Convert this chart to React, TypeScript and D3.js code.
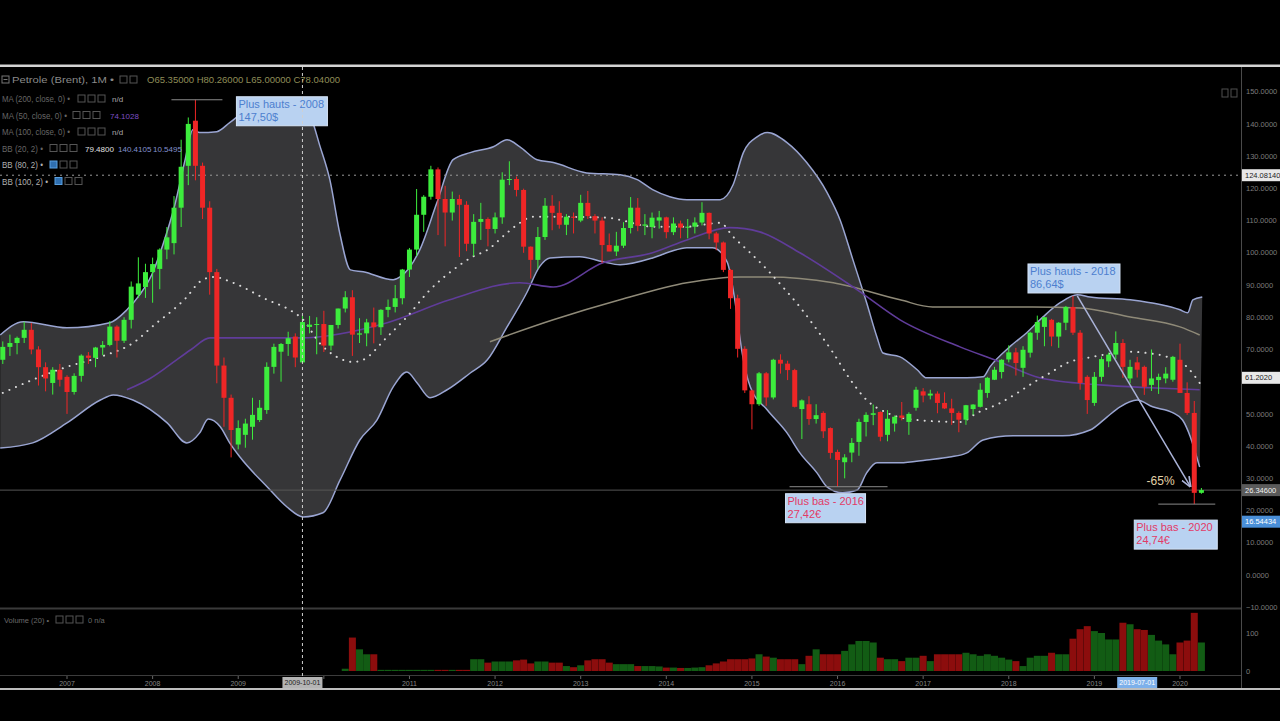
import React from "react";
import * as d3 from "d3";

// Monthly candles: [month, open, high, low, close]
const candles: [string, number, number, number, number][] = [
  ["2006-04", 66.8, 72.5, 65.5, 70.8], ["2006-05", 70.8, 74.6, 68.0, 72.0], ["2006-06", 72.0, 74.0, 68.5, 73.6],
  ["2006-07", 73.6, 78.6, 72.0, 76.1], ["2006-08", 76.1, 78.2, 68.5, 70.0], ["2006-09", 70.0, 71.0, 58.8, 64.5],
  ["2006-10", 64.5, 66.0, 57.0, 61.0], ["2006-11", 59.6, 64.5, 56.0, 63.7], ["2006-12", 63.7, 65.5, 58.5, 60.6],
  ["2007-01", 61.5, 62.0, 50.0, 56.8], ["2007-02", 56.8, 62.6, 56.0, 61.8], ["2007-03", 61.8, 68.5, 60.0, 68.1],
  ["2007-04", 68.1, 69.2, 65.5, 67.4], ["2007-05", 67.4, 70.8, 64.5, 70.6], ["2007-06", 70.6, 72.6, 68.2, 71.4],
  ["2007-07", 71.4, 78.8, 71.0, 77.1], ["2007-08", 77.1, 77.5, 67.5, 72.7], ["2007-09", 72.7, 80.0, 72.0, 79.2],
  ["2007-10", 79.2, 91.1, 76.5, 89.5], ["2007-11", 87.0, 98.6, 86.0, 90.5], ["2007-12", 89.4, 96.6, 86.0, 94.0],
  ["2008-01", 94.0, 98.5, 84.5, 96.5], ["2008-02", 95.0, 101.4, 88.7, 101.0], ["2008-03", 101.0, 108.0, 98.0, 104.8],
  ["2008-04", 103.0, 117.6, 99.5, 114.0], ["2008-05", 114.0, 135.1, 108.0, 126.7], ["2008-06", 127.0, 142.0, 121.0, 140.0],
  ["2008-07", 141.0, 147.5, 122.5, 127.0], ["2008-08", 127.0, 128.0, 110.5, 114.0], ["2008-09", 114.0, 116.0, 87.0, 94.0],
  ["2008-10", 94.0, 95.0, 59.5, 65.0], ["2008-11", 65.0, 67.5, 46.0, 55.0], ["2008-12", 55.0, 56.0, 36.5, 45.0],
  ["2009-01", 40.5, 48.0, 39.0, 45.6], ["2009-02", 43.5, 48.5, 39.5, 47.0], ["2009-03", 46.0, 55.0, 42.0, 49.7],
  ["2009-04", 48.1, 54.3, 47.5, 51.9], ["2009-05", 51.2, 66.0, 50.0, 64.6], ["2009-06", 64.6, 71.8, 62.5, 70.8],
  ["2009-07", 69.3, 72.0, 60.0, 71.7], ["2009-08", 71.7, 75.5, 68.0, 73.5], ["2009-09", 74.0, 75.0, 64.5, 67.5],
  ["2009-10", 66.0, 80.5, 65.8, 78.5], ["2009-11", 77.0, 80.4, 75.0, 77.7], ["2009-12", 77.7, 80.0, 68.5, 77.9],
  ["2010-01", 77.9, 82.0, 69.2, 71.2], ["2010-02", 71.2, 77.6, 69.7, 77.6], ["2010-03", 77.6, 82.7, 76.5, 82.7],
  ["2010-04", 82.7, 88.1, 81.5, 86.2], ["2010-05", 86.2, 88.4, 68.0, 74.6], ["2010-06", 74.6, 79.7, 72.0, 75.0],
  ["2010-07", 75.0, 79.5, 71.0, 78.4], ["2010-08", 78.4, 83.0, 71.9, 76.9], ["2010-09", 76.9, 82.5, 74.5, 82.3],
  ["2010-10", 82.3, 85.5, 80.0, 83.2], ["2010-11", 83.2, 90.0, 81.5, 85.9], ["2010-12", 85.9, 95.0, 84.0, 94.8],
  ["2011-01", 94.8, 101.5, 92.5, 101.0], ["2011-02", 101.0, 119.8, 99.0, 111.8], ["2011-03", 111.8, 117.9, 106.5, 117.4],
  ["2011-04", 117.4, 127.0, 116.5, 125.9], ["2011-05", 125.9, 126.5, 105.5, 116.7], ["2011-06", 116.7, 120.8, 102.0, 112.5],
  ["2011-07", 112.5, 119.0, 110.0, 116.7], ["2011-08", 116.7, 118.0, 98.7, 114.9], ["2011-09", 114.9, 116.0, 100.5, 102.8],
  ["2011-10", 102.8, 112.0, 99.0, 109.6], ["2011-11", 109.6, 115.5, 104.0, 110.5], ["2011-12", 110.5, 111.0, 102.0, 107.4],
  ["2012-01", 107.4, 112.5, 106.0, 111.0], ["2012-02", 111.0, 125.0, 109.0, 122.7], ["2012-03", 122.7, 128.4, 121.0, 122.9],
  ["2012-04", 122.9, 123.7, 117.5, 119.5], ["2012-05", 119.5, 119.9, 100.0, 101.9], ["2012-06", 101.9, 102.0, 92.0, 97.8],
  ["2012-07", 97.8, 108.0, 95.0, 104.9], ["2012-08", 104.9, 117.0, 104.0, 114.6], ["2012-09", 114.6, 117.9, 107.0, 112.4],
  ["2012-10", 112.4, 116.0, 107.5, 108.7], ["2012-11", 108.7, 112.0, 105.5, 111.2], ["2012-12", 111.2, 112.5, 106.0, 111.1],
  ["2013-01", 110.0, 118.0, 109.5, 115.5], ["2013-02", 115.5, 119.2, 110.5, 111.4], ["2013-03", 111.4, 112.0, 106.0, 110.0],
  ["2013-04", 110.0, 111.0, 96.8, 102.4], ["2013-05", 102.4, 106.0, 100.5, 100.4], ["2013-06", 100.4, 106.5, 99.0, 102.2],
  ["2013-07", 102.2, 109.5, 101.5, 107.7], ["2013-08", 107.7, 117.3, 106.0, 114.0], ["2013-09", 114.0, 117.0, 106.7, 108.4],
  ["2013-10", 108.4, 112.0, 105.5, 108.8], ["2013-11", 108.0, 112.5, 104.5, 110.9], ["2013-12", 110.0, 113.0, 107.5, 111.0],
  ["2014-01", 111.0, 111.2, 104.5, 106.4], ["2014-02", 106.4, 111.0, 105.5, 109.1], ["2014-03", 109.1, 110.0, 104.5, 107.8],
  ["2014-04", 107.8, 110.5, 104.5, 108.1], ["2014-05", 108.1, 111.0, 106.0, 109.4], ["2014-06", 109.4, 115.7, 108.5, 112.4],
  ["2014-07", 112.4, 112.5, 104.2, 106.0], ["2014-08", 106.0, 106.5, 100.8, 103.2], ["2014-09", 103.2, 103.5, 94.0, 94.7],
  ["2014-10", 94.7, 95.0, 82.6, 85.9], ["2014-11", 85.9, 87.0, 67.5, 70.2], ["2014-12", 70.2, 71.0, 56.5, 57.3],
  ["2015-01", 57.3, 57.5, 45.2, 53.0], ["2015-02", 53.0, 63.0, 52.5, 62.6], ["2015-03", 62.6, 63.0, 52.5, 55.1],
  ["2015-04", 55.1, 67.1, 54.5, 66.8], ["2015-05", 66.8, 68.5, 62.5, 65.6], ["2015-06", 65.6, 66.5, 60.5, 63.6],
  ["2015-07", 63.6, 64.0, 52.0, 52.2], ["2015-08", 51.5, 54.5, 42.2, 54.2], ["2015-09", 53.0, 55.5, 46.6, 48.4],
  ["2015-10", 48.4, 53.0, 47.0, 49.6], ["2015-11", 50.3, 50.8, 42.5, 44.6], ["2015-12", 45.6, 45.8, 36.1, 37.9],
  ["2016-01", 38.2, 38.9, 27.4, 35.7], ["2016-02", 35.0, 37.5, 30.0, 36.5], ["2016-03", 38.0, 42.5, 35.0, 41.0],
  ["2016-04", 41.3, 48.5, 37.0, 47.5], ["2016-05", 47.5, 50.5, 43.0, 49.7], ["2016-06", 49.7, 52.9, 46.5, 50.2],
  ["2016-07", 50.6, 50.8, 41.5, 42.9], ["2016-08", 43.5, 51.2, 41.5, 48.5], ["2016-09", 47.0, 49.5, 44.5, 49.1],
  ["2016-10", 49.5, 53.7, 48.0, 48.8], ["2016-11", 47.5, 50.5, 43.5, 50.0], ["2016-12", 51.9, 58.4, 51.0, 57.5],
  ["2017-01", 57.0, 58.0, 53.6, 55.7], ["2017-02", 55.7, 57.5, 54.5, 56.3], ["2017-03", 56.3, 57.0, 50.2, 53.4],
  ["2017-04", 53.4, 56.7, 51.5, 51.7], ["2017-05", 51.7, 54.7, 46.6, 50.3], ["2017-06", 50.3, 50.8, 44.3, 48.2],
  ["2017-07", 48.2, 52.8, 46.6, 52.7], ["2017-08", 51.5, 53.0, 49.7, 52.9], ["2017-09", 52.2, 59.5, 52.0, 57.5],
  ["2017-10", 56.5, 61.5, 55.0, 61.2], ["2017-11", 60.6, 64.6, 60.5, 63.7], ["2017-12", 63.0, 67.0, 61.0, 66.8],
  ["2018-01", 66.9, 71.3, 66.0, 69.1], ["2018-02", 69.1, 70.5, 61.9, 65.8], ["2018-03", 64.3, 71.0, 61.5, 69.9],
  ["2018-04", 69.0, 75.5, 67.5, 75.2], ["2018-05", 75.2, 80.5, 73.0, 78.5], ["2018-06", 77.0, 80.0, 71.0, 80.0],
  ["2018-07", 79.2, 79.5, 71.0, 74.0], ["2018-08", 74.0, 78.5, 70.5, 78.3], ["2018-09", 78.3, 83.5, 76.0, 83.2],
  ["2018-10", 83.2, 86.6, 74.5, 75.2], ["2018-11", 75.2, 76.0, 57.5, 59.6], ["2018-12", 61.5, 62.0, 50.0, 54.3],
  ["2019-01", 53.4, 63.0, 52.5, 61.5], ["2019-02", 61.5, 67.8, 60.0, 67.0], ["2019-03", 66.3, 69.0, 64.5, 68.4],
  ["2019-04", 68.4, 75.6, 67.0, 72.0], ["2019-05", 72.0, 73.2, 61.2, 64.6], ["2019-06", 61.0, 66.8, 59.5, 64.6],
  ["2019-07", 66.0, 67.7, 61.3, 63.7], ["2019-08", 64.6, 65.0, 55.9, 58.4], ["2019-09", 59.0, 70.0, 57.1, 61.0],
  ["2019-10", 60.5, 62.5, 56.2, 61.5], ["2019-11", 61.0, 64.5, 59.5, 62.5], ["2019-12", 60.6, 68.0, 60.0, 67.7],
  ["2020-01", 66.8, 71.8, 57.7, 56.5], ["2020-02", 56.5, 59.8, 49.7, 50.3], ["2020-03", 50.3, 54.0, 22.0, 25.5],
  ["2020-04", 25.5, 27.0, 25.2, 26.35],
];

// Volume from 2010-04 onwards, one value per month
const volumeStart = "2010-04";
const volumes = [
  6, 88, 57, 44, 44, 3, 3, 3, 3,
  3, 3, 3, 3, 3, 3, 3, 3, 3, 31, 31, 22,
  25, 25, 25, 28, 30, 20, 25, 25, 22, 22, 13, 10,
  15, 28, 31, 31, 22, 18, 18, 18, 13, 13, 13, 12,
  9, 9, 8, 8, 9, 10, 15, 20, 25, 31, 31, 31,
  33, 44, 38, 35, 31, 31, 31, 18, 40, 57, 44, 44,
  44, 53, 70, 79, 79, 75, 35, 31, 31, 26, 35, 35,
  40, 26, 44, 44, 44, 44, 48, 44, 40, 44, 40, 35,
  30, 26, 13, 35, 40, 40, 48, 44, 44, 85, 110, 118,
  105, 100, 83, 83, 127, 123, 110, 108, 95, 80, 70, 44,
  75, 80, 153, 75,
];

// Indicator curves: [decimal year, price]
const bbUpper: [number, number][] = [
  [2006.22, 74.5], [2006.49, 78.6], [2007.0, 76.7], [2007.5, 78.3], [2007.7, 82.3], [2007.85, 87.0],
  [2007.99, 93.2], [2008.12, 102.5], [2008.26, 114.9], [2008.38, 128.9], [2008.47, 138.2], [2008.55, 137.3],
  [2008.75, 137.6], [2008.9, 140.4], [2009.14, 145.0], [2009.49, 146.9], [2009.72, 146.0], [2009.86, 141.3],
  [2009.95, 133.5], [2010.07, 122.7], [2010.19, 105.6], [2010.31, 94.7], [2010.46, 94.1], [2010.81, 91.6],
  [2010.89, 92.5], [2011.12, 100.9], [2011.32, 115.5], [2011.51, 128.9], [2011.71, 131.1], [2011.98, 132.9],
  [2012.14, 135.1], [2012.29, 132.9], [2012.49, 128.9], [2012.68, 128.0], [2013.07, 124.8], [2013.46, 124.2],
  [2013.66, 122.7], [2013.84, 119.6], [2014.04, 117.4], [2014.24, 116.5], [2014.63, 116.5], [2014.78, 121.1],
  [2014.9, 131.1], [2015.06, 136.0], [2015.18, 137.3], [2015.41, 134.2], [2015.64, 128.0], [2015.88, 118.6],
  [2016.03, 110.2], [2016.18, 97.8], [2016.34, 84.5], [2016.46, 73.9], [2016.53, 68.9], [2016.73, 67.7],
  [2016.93, 63.7], [2017.04, 61.2], [2017.51, 61.2], [2017.7, 61.5], [2017.78, 64.6], [2018.01, 70.8],
  [2018.21, 75.2], [2018.4, 80.1], [2018.6, 84.5], [2018.8, 87.0], [2018.95, 86.3], [2019.42, 85.4],
  [2020.0, 82.3], [2020.09, 81.4], [2020.15, 85.4], [2020.26, 86.3],
];
const bbLower: [number, number][] = [
  [2006.22, 39.4], [2006.6, 41.0], [2007.0, 47.2], [2007.39, 54.3], [2007.54, 55.9], [2007.77, 54.3],
  [2008.17, 47.2], [2008.4, 41.0], [2008.55, 44.1], [2008.65, 48.4], [2008.79, 46.0], [2008.9, 41.0],
  [2009.02, 36.6], [2009.34, 27.3], [2009.57, 21.1], [2009.76, 18.0], [2009.99, 19.3], [2010.19, 29.5],
  [2010.42, 41.9], [2010.62, 48.1], [2010.81, 58.4], [2010.97, 63.0], [2011.09, 59.6], [2011.24, 55.0],
  [2011.44, 57.5], [2011.71, 62.7], [2011.91, 66.8], [2012.14, 77.0], [2012.37, 87.6], [2012.52, 95.7],
  [2012.64, 98.4], [2012.99, 98.8], [2013.26, 97.2], [2013.46, 96.3], [2013.84, 98.4], [2014.04, 100.3],
  [2014.24, 101.6], [2014.54, 101.6], [2014.71, 97.2], [2014.8, 85.4], [2014.88, 69.9], [2014.98, 58.4],
  [2015.18, 51.2], [2015.41, 44.1], [2015.56, 37.9], [2015.76, 31.7], [2015.88, 27.3], [2016.06, 25.5],
  [2016.23, 26.4], [2016.34, 31.7], [2016.46, 34.8], [2016.73, 34.8], [2017.04, 35.7], [2017.31, 36.6],
  [2017.51, 37.9], [2017.7, 41.9], [2018.05, 43.2], [2018.63, 43.2], [2018.95, 45.0], [2019.15, 49.1],
  [2019.3, 52.2], [2019.5, 54.3], [2019.68, 52.2], [2019.92, 50.3], [2020.03, 48.1], [2020.12, 42.9],
  [2020.17, 38.8], [2020.23, 33.5],
];
const bbMiddle: [number, number][] = [
  [2006.25, 56.5], [2006.6, 60.6], [2007.0, 64.6], [2007.39, 67.7], [2007.77, 72.0], [2008.05, 78.3],
  [2008.24, 82.3], [2008.4, 86.3], [2008.55, 91.0], [2008.71, 92.5], [2008.94, 90.7], [2009.34, 85.4],
  [2009.6, 82.3], [2009.76, 79.2], [2009.95, 72.0], [2010.15, 67.7], [2010.34, 66.1], [2010.46, 66.8],
  [2010.74, 73.9], [2010.97, 80.1], [2011.24, 88.5], [2011.51, 94.7], [2011.74, 98.8], [2011.91, 100.9],
  [2012.14, 106.2], [2012.29, 109.3], [2012.44, 111.2], [2012.68, 111.2], [2013.31, 110.9], [2013.46, 110.2],
  [2013.84, 108.1], [2014.24, 108.1], [2014.63, 109.3], [2014.78, 105.0], [2014.98, 100.0], [2015.18, 94.7],
  [2015.36, 89.4], [2015.56, 83.2], [2015.76, 76.1], [2015.95, 68.9], [2016.15, 60.6], [2016.34, 54.3],
  [2016.58, 50.3], [2016.93, 48.1], [2017.43, 47.5], [2017.63, 50.3], [2017.9, 53.4], [2018.1, 56.5],
  [2018.28, 59.6], [2018.48, 62.7], [2018.68, 65.8], [2018.98, 67.7], [2019.42, 69.3], [2019.61, 68.9],
  [2019.85, 67.7], [2020.08, 64.6], [2020.23, 59.6],
];
const ma50: [number, number][] = [
  [2007.7, 57.5], [2007.97, 61.0], [2008.2, 65.2], [2008.45, 70.0], [2008.67, 73.6], [2009.72, 73.6],
  [2010.74, 78.3], [2011.47, 85.4], [2012.29, 90.7], [2012.68, 89.4], [2013.26, 96.9], [2013.84, 100.0],
  [2014.24, 104.0], [2014.74, 107.8], [2015.09, 106.5], [2015.56, 100.0], [2016.23, 88.5], [2016.73, 79.2],
  [2017.43, 70.8], [2017.9, 66.1], [2018.36, 61.2], [2019.06, 59.0], [2019.65, 58.1], [2020.23, 57.5],
];
const ma100: [number, number][] = [
  [2011.94, 72.4], [2012.68, 79.2], [2013.46, 85.4], [2014.24, 90.7], [2014.86, 92.5], [2015.18, 92.5],
  [2015.95, 90.7], [2016.73, 85.4], [2017.11, 83.2], [2018.28, 83.2], [2018.83, 82.9], [2019.42, 80.1],
  [2020.0, 77.0], [2020.23, 74.5],
];

const priceTicks = [150, 140, 130, 120, 110, 100, 90, 80, 70, 60, 50, 40, 30, 20, 10, 0, -10];
const volumeTicks = [0, 100];
const yearTicks = d3.range(2007, 2021);

const annotations = [
  { month: "2008-07", kind: "high", title: "Plus hauts - 2008", price: "147,50$" },
  { month: "2018-10", kind: "high", title: "Plus hauts - 2018", price: "86,64$" },
  { month: "2016-01", kind: "low", title: "Plus bas - 2016", price: "27,42€" },
  { month: "2020-03", kind: "low", title: "Plus bas - 2020", price: "24,74€" },
];
const drawdown = { from: [2018.8, 86.6], to: [2020.12, 27.5], label: "-65%", labelAt: [2019.61, 27.9] };

const crosshair = { year: 2009.75, price: 124.0814, dateLabel: "2009-10-01" };
const cursor = { year: 2019.5, price: 16.54434, dateLabel: "2019-07-01" };
const lastPrice = 26.346;
const maMark = 61.202;

const headerLabel = "Petrole (Brent), 1M •";
const headerValues = "O65.35000 H80.26000 L65.00000 C78.04000";
const legendRows = [
  { label: "MA (200, close, 0) •", values: [["n/d", "#a8a8a8"]] },
  { label: "MA (50, close, 0) •", values: [["74.1028", "#7d4fc4"]] },
  { label: "MA (100, close, 0) •", values: [["n/d", "#a8a8a8"]] },
  { label: "BB (20, 2) •", values: [["79.4800", "#e0e0e0"], ["140.4105", "#8391cf"], ["10.5495", "#8391cf"]] },
  { label: "BB (80, 2) •", values: [] },
  { label: "BB (100, 2) •", values: [] },
];

// legend layout: label width, box x, value x positions
const legendLayout = [
  { w: 68, box: 78, vals: [112] },
  { w: 65, box: 73, vals: [110] },
  { w: 68, box: 78, vals: [112] },
  { w: 41, box: 50, vals: [85, 118, 153] },
  { w: 41, box: 50, vals: [] },
  { w: 46, box: 55, vals: [] },
];

// layout for annotation boxes, relative to the marked candle
const annoLayout: Record<string, { dx: number; dy: number; w: number; line?: [number, number] }> = {
  "2008-07": { dx: 41, dy: -3, w: 91, line: [-24, 27] },
  "2018-10": { dx: -45, dy: -32, w: 92 },
  "2016-01": { dx: -52, dy: 7, w: 80, line: [-48, 50] },
  "2020-03": { dx: -60, dy: 16, w: 83, line: [-36, 21] },
};

const toYear = (s: string) => {
  const [yy, mm] = s.split("-").map(Number);
  return yy + (mm - 1) / 12;
};

const FONT = "'Liberation Sans', Arial, sans-serif";
const GREEN = "#3ded3d";
const RED = "#ef2626";

function Boxes({ x, y, n, first }: { x: number; y: number; n: number; first?: string }) {
  return (
    <g>
      {d3.range(n).map((i) => (
        <rect key={i} x={x + i * 10} y={y - 7} width={7} height={7}
          fill={i === 0 && first ? first : "none"} stroke={i === 0 && first ? "#5aa0e0" : "#555"} strokeWidth={1} />
      ))}
    </g>
  );
}

export default function App() {
  const W = 1280;
  const H = 721;
  const AXIS_X = 1241;
  const x = d3.scaleLinear().domain([2007, 2020]).range([67, 1180]);
  const y = d3.scaleLinear().domain([0, 150]).range([575, 91.7]);
  const yv = d3.scaleLinear().domain([0, 100]).range([671, 633]);

  const line = d3
    .line<[number, number]>()
    .x((d) => x(d[0]))
    .y((d) => y(d[1]))
    .curve(d3.curveMonotoneX);

  const bandPath =
    line(bbUpper) + "L" + (line([...bbLower].reverse()) ?? "").slice(1) + "Z";

  const volOffset = candles.findIndex((c) => c[0] === volumeStart);
  const fmt = d3.format(".4f");
  const bodyW = 5;
  const candleOf = (m: string) => candles.find((c) => c[0] === m)!;

  const priceMarks = [
    { v: crosshair.price, txt: "124.08140", bg: "#e8e8e8", fg: "#222" },
    { v: maMark, txt: "61.2020", bg: "#e8e8e8", fg: "#222" },
    { v: lastPrice, txt: "26.34600", bg: "#5a5a5a", fg: "#f0f0f0" },
    { v: cursor.price, txt: "16.54434", bg: "#4a8fd8", fg: "#fff" },
  ];
  const dateMarks = [
    { t: crosshair.year, txt: crosshair.dateLabel, bg: "#b4b4b4", fg: "#222" },
    { t: cursor.year, txt: cursor.dateLabel, bg: "#7db0ea", fg: "#fff" },
  ];
  const visiblePriceTicks = priceTicks.filter((t) => priceMarks.every((m) => Math.abs(y(t) - y(m.v)) > 9));
  const visibleYears = yearTicks.filter((yr) => dateMarks.every((m) => Math.abs(x(yr) - x(m.t)) > 34));

  return (
    <div style={{ position: "absolute", left: 0, top: 0 }}>
      <svg width={W} height={H} style={{ display: "block", background: "#000" }} fontFamily={FONT}>
        <defs>
          <clipPath id="pricePane">
            <rect x={0} y={68} width={AXIS_X} height={539} />
          </clipPath>
          <clipPath id="volPane">
            <rect x={0} y={610} width={AXIS_X} height={65} />
          </clipPath>
          <marker id="arrow" viewBox="0 0 10 10" refX={9} refY={5} markerWidth={7} markerHeight={7} orient="auto">
            <path d="M0,1 L10,5 L0,9" fill="none" stroke="#aab3d8" strokeWidth={1.6} />
          </marker>
        </defs>
        <rect width={W} height={H} fill="#000" />

        {/* price pane */}
        <g clipPath="url(#pricePane)">
          <path d={bandPath} fill="#363638" />
          <path d={line(bbUpper) ?? ""} fill="none" stroke="#9aa5d2" strokeWidth={1.5} />
          <path d={line(bbLower) ?? ""} fill="none" stroke="#9aa5d2" strokeWidth={1.5} />
          <path d={line(ma100) ?? ""} fill="none" stroke="#8f8a78" strokeWidth={1.5} />
          <path d={line(ma50) ?? ""} fill="none" stroke="#603c9a" strokeWidth={1.6} />
          <path d={line(bbMiddle) ?? ""} fill="none" stroke="#d8d8d8" strokeWidth={2}
            strokeDasharray="0.1 7.1" strokeLinecap="round" />

          <line x1={0} x2={AXIS_X} y1={y(crosshair.price)} y2={y(crosshair.price)}
            stroke="#9a9a9a" strokeWidth={1} strokeDasharray="2 4" />
          <line x1={0} x2={AXIS_X} y1={y(lastPrice)} y2={y(lastPrice)} stroke="#555" strokeWidth={1} />

          {candles.map(([m, o, hi, lo, c]) => {
            const cx = x(toYear(m));
            const col = c >= o ? GREEN : RED;
            const top = y(Math.max(o, c));
            const bot = y(Math.min(o, c));
            return (
              <g key={m}>
                <line x1={cx} x2={cx} y1={y(hi)} y2={y(lo)} stroke={col} strokeWidth={1} />
                <rect x={cx - bodyW / 2} y={top} width={bodyW} height={Math.max(1, bot - top)} fill={col} />
              </g>
            );
          })}

          {/* drawdown arrow */}
          <line x1={x(drawdown.from[0])} y1={y(drawdown.from[1])} x2={x(drawdown.to[0])} y2={y(drawdown.to[1])}
            stroke="#aab3d8" strokeWidth={1.5} markerEnd="url(#arrow)" />
          <text x={x(drawdown.labelAt[0])} y={y(drawdown.labelAt[1])} fontSize={12} fill="#e2d3a8">
            {drawdown.label}
          </text>

          {annotations.map((a) => {
            const c = candleOf(a.month);
            const ax = x(toYear(a.month));
            const ay = y(a.kind === "high" ? c[2] : c[3]);
            const L = annoLayout[a.month];
            const bx = ax + L.dx;
            const by = ay + L.dy;
            const tc = a.kind === "high" ? "#4d7fcf" : "#e23a66";
            return (
              <g key={a.month}>
                {L.line && (
                  <line x1={ax + L.line[0]} x2={ax + L.line[1]} y1={ay} y2={ay} stroke="#8a8a8a" strokeWidth={1} />
                )}
                <rect x={bx} y={by} width={L.w} height={29} fill="#b9d2f1" stroke="#d6e4f7" strokeWidth={1} />
                <text x={bx + 2} y={by + 11} fontSize={11} fill={tc}>{a.title}</text>
                <text x={bx + 2} y={by + 24} fontSize={11} fill={tc}>{a.price}</text>
              </g>
            );
          })}
        </g>

        {/* volume pane */}
        <g clipPath="url(#volPane)">
          {volumes.map((v, i) => {
            const c = candles[volOffset + i];
            const cx = x(toYear(c[0]));
            return (
              <rect key={c[0]} x={cx - 3.5} y={yv(v)} width={7} height={yv(0) - yv(v)}
                fill={c[4] >= c[1] ? "#125c14" : "#8c0d0d"} />
            );
          })}
        </g>

        {/* frame lines */}
        <rect x={0} y={64.5} width={W} height={2.5} fill="#d4d4d4" />
        <line x1={0} x2={AXIS_X} y1={608.5} y2={608.5} stroke="#3a3a3a" strokeWidth={2} />
        <line x1={0} x2={AXIS_X} y1={675.5} y2={675.5} stroke="#3c3c3c" strokeWidth={1} />
        <line x1={AXIS_X + 0.5} x2={AXIS_X + 0.5} y1={67} y2={688} stroke="#4a4a4a" strokeWidth={1} />
        <rect x={0} y={688} width={W} height={2} fill="#bdbdbd" />

        {/* crosshair */}
        <line x1={x(crosshair.year)} x2={x(crosshair.year)} y1={67} y2={678}
          stroke="#d0d0d0" strokeWidth={1} strokeDasharray="3 3" />

        {/* price axis */}
        {visiblePriceTicks.map((t) => (
          <text key={t} x={AXIS_X + 5} y={y(t)} dy="0.35em" fontSize={7.5} fill="#7c7c7c">
            {fmt(t)}
          </text>
        ))}
        {volumeTicks.map((t) => (
          <text key={`v${t}`} x={AXIS_X + 5} y={yv(t)} dy="0.35em" fontSize={7.5} fill="#7c7c7c">
            {t}
          </text>
        ))}
        {priceMarks.map((b) => (
          <g key={b.txt}>
            <rect x={AXIS_X + 1} y={y(b.v) - 6} width={38} height={12} fill={b.bg} />
            <text x={AXIS_X + 4} y={y(b.v)} dy="0.35em" fontSize={7.5} fill={b.fg}>{b.txt}</text>
          </g>
        ))}

        {/* time axis */}
        {yearTicks.map((yr) => (
          <line key={yr} x1={x(yr)} x2={x(yr)} y1={676} y2={679} stroke="#666" />
        ))}
        {visibleYears.map((yr) => (
          <text key={yr} x={x(yr)} y={685} dy="0.2em" fontSize={7} fill="#858585" textAnchor="middle">{yr}</text>
        ))}
        {dateMarks.map((b) => (
          <g key={b.txt}>
            <rect x={x(b.t) - 20} y={677} width={40} height={11} fill={b.bg} />
            <text x={x(b.t)} y={683} dy="0.3em" fontSize={7} fill={b.fg} textAnchor="middle">{b.txt}</text>
          </g>
        ))}

        {/* legend */}
        <g fontSize={8.5}>
          <rect x={2} y={76} width={7} height={7} fill="none" stroke="#777" />
          <line x1={3.5} x2={7.5} y1={79.5} y2={79.5} stroke="#777" />
          <text x={12} y={83} fill="#8a8a8a" textLength={102} lengthAdjust="spacingAndGlyphs">{headerLabel}</text>
          <Boxes x={120} y={83} n={2} />
          <text x={147} y={83} fill="#8f8d58" textLength={193} lengthAdjust="spacingAndGlyphs">{headerValues}</text>
          {legendRows.map((r, i) => {
            const L = legendLayout[i];
            const ly = 102 + i * 16.5;
            return (
              <g key={r.label}>
                <text x={2} y={ly} fill={i >= 4 ? "#b0b0b0" : "#666"} textLength={L.w} lengthAdjust="spacingAndGlyphs">
                  {r.label}
                </text>
                <Boxes x={L.box} y={ly} n={3} first={i >= 4 ? "#2f6fb0" : undefined} />
                {r.values.map(([v, col], j) => (
                  <text key={j} x={L.vals[j]} y={ly} fill={col} fontSize={8}>{v}</text>
                ))}
              </g>
            );
          })}
          <text x={4} y={623} fontSize={7.5} fill="#6a6a6a">Volume (20) •</text>
          <Boxes x={56} y={623} n={3} />
          <text x={88} y={623} fontSize={7.5} fill="#6a6a6a">0  n/a</text>
        </g>

        {/* top-right pane icons */}
        <rect x={1222} y={89} width={6} height={8} fill="none" stroke="#4e4e4e" />
        <rect x={1231} y={89} width={6} height={8} fill="none" stroke="#4e4e4e" />
      </svg>
    </div>
  );
}
